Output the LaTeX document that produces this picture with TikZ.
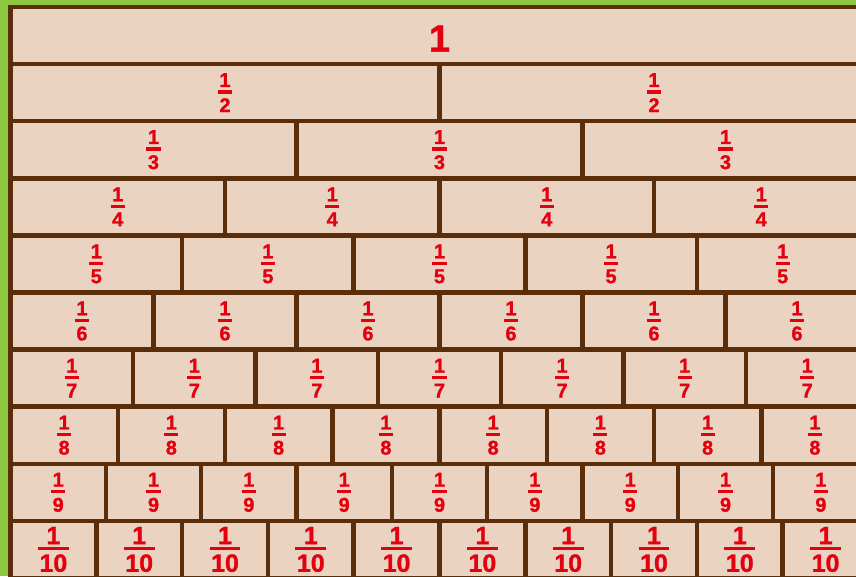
\documentclass[tikz,border=0pt]{standalone}
\usepackage{fontspec}
\setmainfont{Liberation Sans}[BoldFeatures={FakeBold=1.2}]
\definecolor{bggreen}{HTML}{8DC63F}
\definecolor{brickfill}{HTML}{EBD3C1}
\definecolor{brickline}{HTML}{5A2E0B}
\definecolor{fracred}{HTML}{E3000F}
\newcommand{\fracbox}[4]{%
  \setbox0\hbox{#2}%
  \vbox{\offinterlineskip\halign{\hfil##\hfil\cr
    #1\cr\noalign{\kern#3}%
    \vrule width\dimexpr\wd0+3pt\relax height 3.2pt depth 0pt\cr
    \noalign{\kern#4}%
    #2\cr}}}
\tikzset{
  brick/.style={draw=brickline, fill=brickfill, line width=4.5pt, rectangle,
    inner sep=0pt, minimum height=57.1pt, text=fracred,
    font=\bfseries\fontsize{20}{20}\selectfont},
  bigbrick/.style={brick, font=\bfseries\fontsize{25}{25}\selectfont},
  topbrick/.style={brick, font=\bfseries\fontsize{38}{38}\selectfont}
}
\begin{document}
\begin{tikzpicture}[x=1pt,y=-1pt]
\useasboundingbox (0,0) rectangle (856,576);
\fill[bggreen] (0,0) rectangle (856,576);
\clip (0,0) rectangle (856,576);
% row 1
\node[topbrick, minimum width=858pt] (b1-1) at (439.5,35.55) {\vbox{\kern6pt\hbox{1}}};
% rows 2..9
\foreach \n in {2,...,9}{
  \pgfmathsetmacro{\w}{858/\n}
  \pgfmathsetmacro{\yc}{7+57.1*(\n-1)+28.55}
  \foreach \k in {1,...,\n}{
    \pgfmathsetmacro{\xc}{10.5+(\k-0.5)*\w}
    \node[brick, minimum width=\w pt] (b\n-\k) at (\xc,\yc) {\fracbox{1}{\n}{3.5pt}{4.5pt}};
  }
}
% row 10
\pgfmathsetmacro{\w}{85.8}
\pgfmathsetmacro{\yc}{7+57.1*9+28.55}
\foreach \k in {1,...,10}{
  \pgfmathsetmacro{\xc}{10.5+(\k-0.5)*\w}
  \node[bigbrick, minimum width=\w pt] (b10-\k) at (\xc,\yc) {\fracbox{1}{10}{3pt}{4pt}};
}
\end{tikzpicture}
\end{document}
